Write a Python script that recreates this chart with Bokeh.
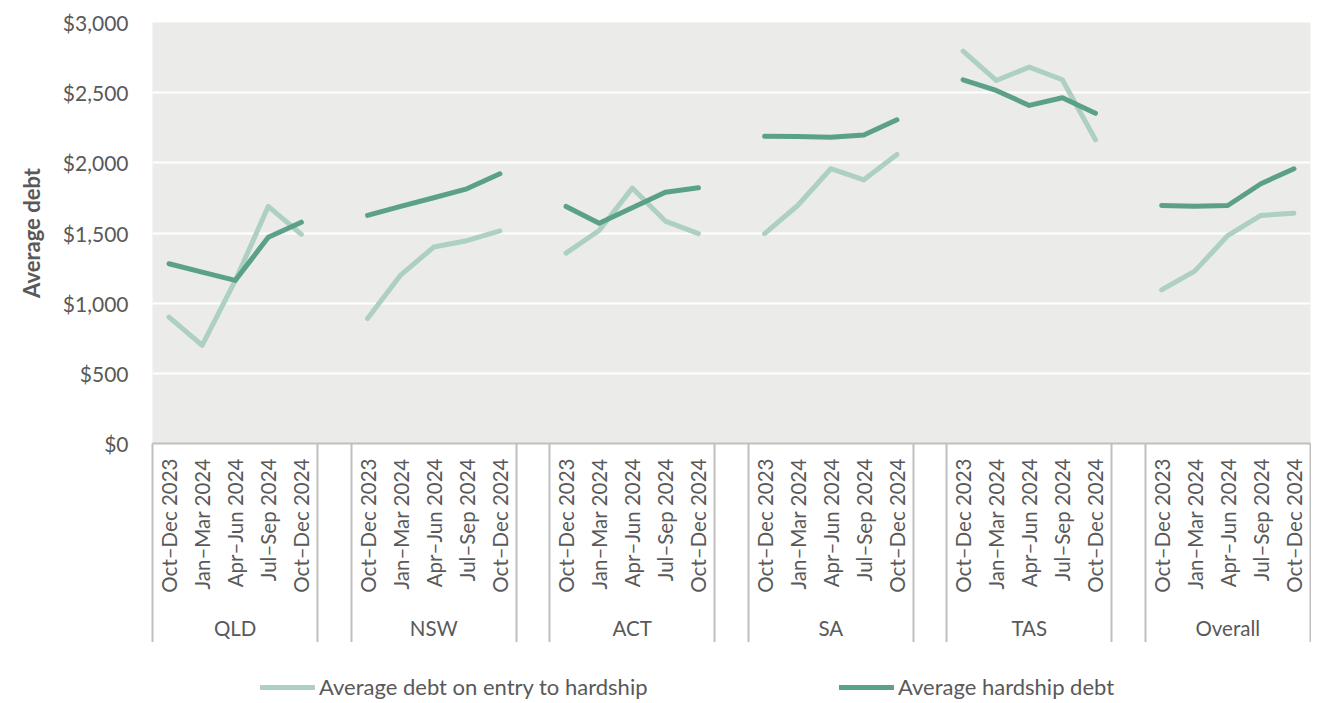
import math
from bokeh.plotting import figure
from bokeh.layouts import column
from bokeh.models import (Range1d, FixedTicker, LinearAxis, NumeralTickFormatter,
                          ColumnDataSource, Legend, LegendItem)
from bokeh.embed import file_html
from bokeh.resources import INLINE

groups = ["QLD", "NSW", "ACT", "SA", "TAS", "Overall"]
quarters = ["Oct\u2013Dec 2023", "Jan\u2013Mar 2024", "Apr\u2013Jun 2024",
            "Jul\u2013Sep 2024", "Oct\u2013Dec 2024"]

# Average debt on entry to hardship, per group (5 quarters each)
entry_qld = [900, 700, 1160, 1690, 1490]
entry_nsw = [890, 1200, 1400, 1445, 1515]
entry_act = [1357, 1518, 1820, 1585, 1495]
entry_sa = [1495, 1696, 1958, 1879, 2060]
entry_tas = [2796, 2587, 2682, 2592, 2164]
entry_overall = [1095, 1228, 1482, 1625, 1641]

# Average hardship debt
hard_qld = [1281, 1221, 1162, 1470, 1577]
hard_nsw = [1625, 1690, 1751, 1815, 1922]
hard_act = [1689, 1570, 1680, 1791, 1822]
hard_sa = [2190, 2188, 2183, 2198, 2307]
hard_tas = [2592, 2516, 2409, 2464, 2354]
hard_overall = [1696, 1691, 1696, 1851, 1958]

entry_series = [entry_qld, entry_nsw, entry_act, entry_sa, entry_tas, entry_overall]
hard_series = [hard_qld, hard_nsw, hard_act, hard_sa, hard_tas, hard_overall]

series_names = ["Average debt on entry to hardship", "Average hardship debt"]
y_ticks = [0, 500, 1000, 1500, 2000, 2500, 3000]

LIGHT = "#AED0C3"
DARK = "#5BA189"
TEXT = "#595959"
GRID_GRAY = "#BFBFBF"
FONT = "Lato"

nq = len(quarters)
slot = nq + 1  # one empty slot between groups


def xpos(g, q):
    return g * slot + q + 0.5


total_slots = len(groups) * slot - 1

p = figure(frame_width=1158, frame_height=421, output_backend="svg", toolbar_location=None,
           x_range=Range1d(0, total_slots), y_range=Range1d(0, 3000),
           min_border_left=152, min_border_right=1, min_border_top=22,
           min_border_bottom=0)
p.background_fill_color = "#EBEBEA"
p.border_fill_color = "white"
p.outline_line_color = None

# y axis
ya = p.yaxis[0]
ya.ticker = FixedTicker(ticks=y_ticks)
ya.formatter = NumeralTickFormatter(format="$0,0")
ya.axis_line_color = None
ya.major_tick_line_color = None
ya.minor_tick_line_color = None
ya.major_label_text_font = FONT
ya.major_label_text_font_size = "21px"
ya.major_label_text_color = TEXT
ya.major_label_standoff = 18
ya.axis_label = "Average debt"
ya.axis_label_text_font = FONT
ya.axis_label_text_font_style = "bold"
ya.axis_label_text_font_size = "22px"
ya.axis_label_text_color = TEXT
ya.axis_label_standoff = 15

p.ygrid.ticker = FixedTicker(ticks=y_ticks)
p.ygrid.grid_line_color = "white"
p.ygrid.grid_line_width = 2
p.xgrid.grid_line_color = None

# x axis: quarter labels, group separators drawn as minor ticks
tick_pos = [xpos(g, q) for g in range(len(groups)) for q in range(nq)]
sep_pos = []
for g in range(len(groups)):
    sep_pos += [g * slot, g * slot + nq]
labels = {}
for g in range(len(groups)):
    for q in range(nq):
        labels[xpos(g, q)] = quarters[q]

xa = p.xaxis[0]
xa.ticker = FixedTicker(ticks=tick_pos, minor_ticks=sep_pos)
xa.major_label_overrides = labels
xa.major_label_orientation = math.pi / 2
xa.major_label_text_font = FONT
xa.major_label_text_font_size = "20.5px"
xa.major_label_text_color = TEXT
xa.major_label_standoff = 15
xa.major_tick_line_color = None
xa.major_tick_out = 0
xa.major_tick_in = 0
xa.minor_tick_line_color = GRID_GRAY
xa.minor_tick_line_width = 2
xa.minor_tick_out = 0
xa.minor_tick_in = -202
xa.axis_line_color = GRID_GRAY
xa.axis_line_width = 2

# group labels axis
group_pos = [g * slot + nq / 2 for g in range(len(groups))]
ga = LinearAxis(ticker=FixedTicker(ticks=group_pos),
                major_label_overrides={gp: name for gp, name in zip(group_pos, groups)})
ga.axis_line_color = None
ga.major_tick_line_color = None
ga.minor_tick_line_color = None
ga.major_label_text_font = FONT
ga.major_label_text_font_size = "20.5px"
ga.major_label_text_color = TEXT
ga.major_label_standoff = 14
p.add_layout(ga, "below")

# lines
xs = [[xpos(g, q) for q in range(nq)] for g in range(len(groups))]
src_entry = ColumnDataSource(dict(xs=xs, ys=entry_series))
src_hard = ColumnDataSource(dict(xs=xs, ys=hard_series))
line_style = dict(line_width=5, line_cap="round", line_join="round")
p.multi_line("xs", "ys", source=src_entry, line_color=LIGHT, **line_style)
p.multi_line("xs", "ys", source=src_hard, line_color=DARK, **line_style)

# legend strip: a second, axis-less figure whose ranges keep its copies of the
# series out of view, so only its legend shows
leg = figure(width=1311, height=58, output_backend="svg", toolbar_location=None,
             x_range=Range1d(-2, -1), y_range=Range1d(-2, -1),
             x_axis_location=None, y_axis_location=None,
             min_border_left=0, min_border_right=0, min_border_top=0,
             min_border_bottom=0)
leg.outline_line_color = None
leg.background_fill_color = "white"
leg.border_fill_color = "white"
leg.xgrid.grid_line_color = None
leg.ygrid.grid_line_color = None
l1 = leg.multi_line("xs", "ys", source=src_entry, line_color=LIGHT, **line_style)
l2 = leg.multi_line("xs", "ys", source=src_hard, line_color=DARK, **line_style)

legend = Legend(items=[LegendItem(label=series_names[0], renderers=[l1]),
                       LegendItem(label=series_names[1], renderers=[l2])],
                orientation="horizontal", location=(108, 0), nrows=1,
                glyph_width=55, glyph_height=20, label_standoff=4, spacing=0,
                label_width=520,
                label_text_font=FONT, label_text_font_size="22px",
                label_text_color=TEXT, border_line_color=None,
                background_fill_alpha=0, padding=0, margin=0)
leg.add_layout(legend, "center")

open("out.html", "w").write(file_html(column(p, leg), INLINE))
